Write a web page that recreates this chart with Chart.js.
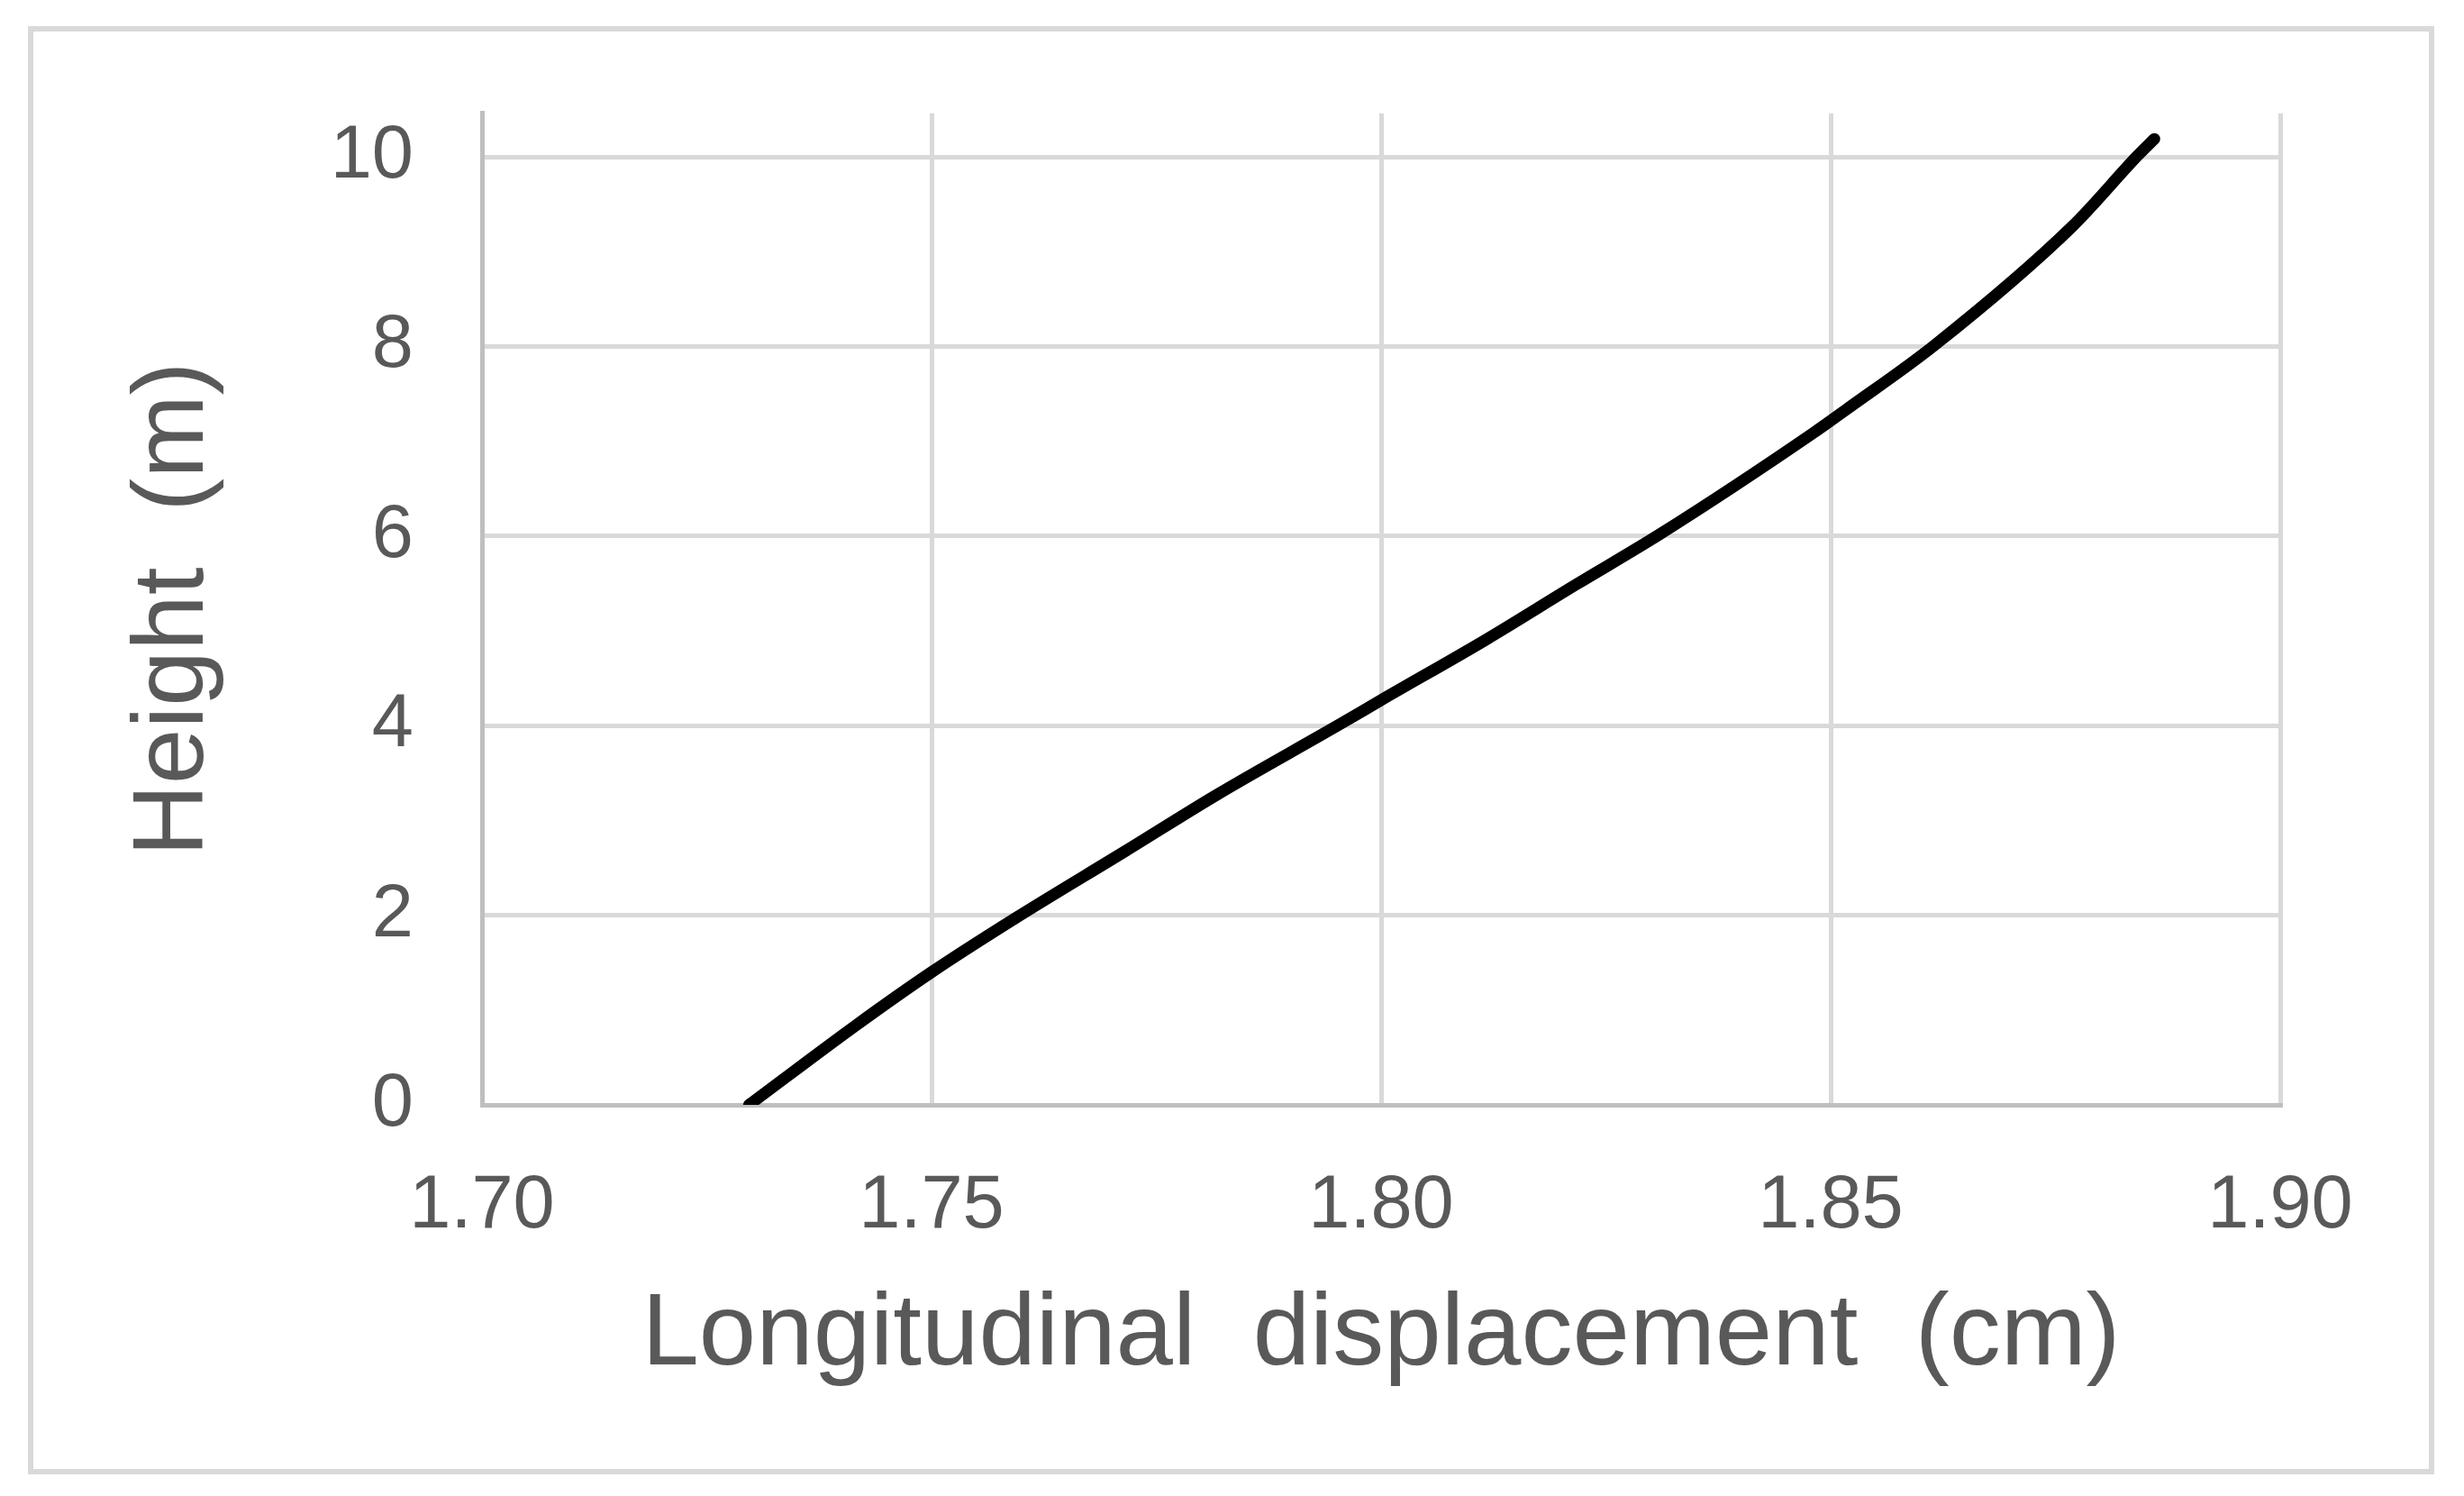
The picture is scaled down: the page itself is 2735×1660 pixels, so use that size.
<!DOCTYPE html>
<html>
<head>
<meta charset="utf-8">
<style>
  html, body { margin: 0; padding: 0; background: #ffffff; }
  #wrap { width: 2735px; height: 1660px; }
</style>
<script src="https://cdn.jsdelivr.net/npm/chart.js@4/dist/chart.umd.min.js"></script>
</head>
<body>
<div id="wrap"><canvas id="c" width="2735" height="1660"></canvas></div>
<script>
// Data
const displacements = [1.7297, 1.7416, 1.7500, 1.7595, 1.7716, 1.7817, 1.7955, 1.8000, 1.8117, 1.8217, 1.8310, 1.8481, 1.8518, 1.8615, 1.8769, 1.8842, 1.8860];
const heights       = [0.00,   0.84,   1.40,   1.98,   2.68,   3.27,   4.02,   4.27,   4.91,   5.49,   6.02,   7.09,   7.34,   8.01,   9.27,   10.02,  10.19];
const xTickValues = [1.70, 1.75, 1.80, 1.85, 1.90];
const yTickValues = [0, 2, 4, 6, 8, 10];
const xTitle = 'Longitudinal  displacement  (cm)';
const yTitle = 'Height  (m)';

const points = displacements.map((d, i) => ({ x: d, y: heights[i] }));

const textColor = '#595959';
const gridColor = '#d9d9d9';
const axisColor = '#bfbfbf';
const fontFamily = '"Liberation Sans", Arial, sans-serif';

const frame = {
  id: 'frame',
  beforeDraw(chart) {
    const ctx = chart.ctx;
    ctx.save();
    ctx.fillStyle = '#ffffff';
    ctx.fillRect(0, 0, chart.width, chart.height);
    ctx.strokeStyle = gridColor;
    ctx.lineWidth = 6;
    ctx.strokeRect(34, 32, 2665, 1601);
    ctx.restore();
  }
};

new Chart(document.getElementById('c'), {
  type: 'scatter',
  data: {
    datasets: [{
      data: points,
      showLine: true,
      borderColor: '#000000',
      borderWidth: 13,
      borderCapStyle: 'round',
      borderJoinStyle: 'round',
      cubicInterpolationMode: 'monotone',
      pointRadius: 0,
      pointHoverRadius: 0,
      fill: false
    }]
  },
  plugins: [frame],
  options: {
    responsive: false,
    animation: false,
    devicePixelRatio: 1,
    layout: { padding: { left: 0, top: 122, right: 204, bottom: 0 } },
    plugins: { legend: { display: false }, tooltip: { enabled: false } },
    scales: {
      x: {
        type: 'linear',
        min: 1.70,
        max: 1.90,
        afterFit(s) { s.height = 1660 - 1226; },
        afterBuildTicks(s) { s.ticks = xTickValues.map(v => ({ value: v })); },
        grid: { color: gridColor, lineWidth: 5, drawTicks: false },
        border: { color: axisColor, width: 5 },
        ticks: {
          color: textColor,
          font: { family: fontFamily, size: 83 },
          padding: 63,
          maxRotation: 0,
          callback: v => Number(v).toFixed(2)
        },
        title: {
          display: true,
          text: xTitle,
          color: textColor,
          font: { family: fontFamily, size: 114 },
          padding: { top: 0, bottom: 109 }
        }
      },
      y: {
        type: 'linear',
        min: 0,
        max: 10.46,
        afterFit(s) { s.width = 535; },
        afterBuildTicks(s) { s.ticks = yTickValues.map(v => ({ value: v })); },
        grid: { color: gridColor, lineWidth: 5, drawTicks: false },
        border: { color: axisColor, width: 5 },
        ticks: {
          color: textColor,
          font: { family: fontFamily, size: 83 },
          padding: 76,
          callback: v => String(v)
        },
        title: {
          display: true,
          text: yTitle,
          color: textColor,
          font: { family: fontFamily, size: 111 },
          padding: { top: 128, bottom: 0 }
        }
      }
    }
  }
});
</script>
</body>
</html>
